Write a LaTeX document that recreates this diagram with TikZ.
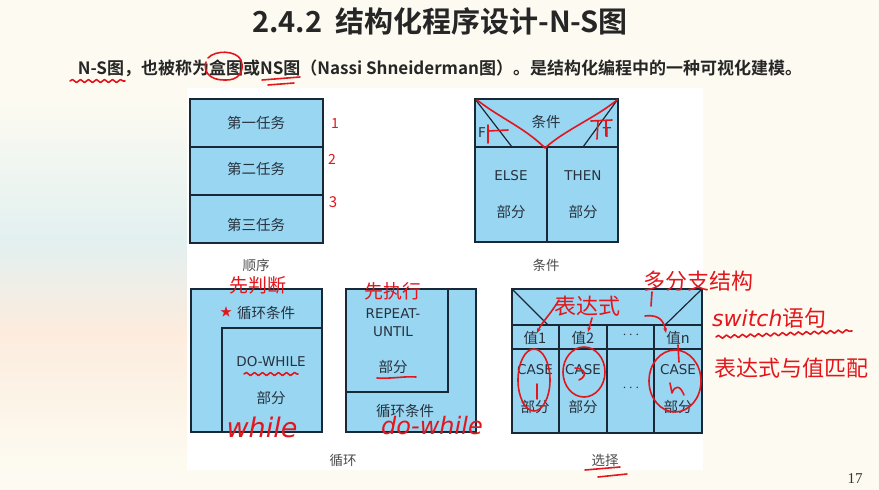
\documentclass[tikz,border=0pt]{standalone}
\usepackage{fontspec}
\setmainfont{DejaVu Sans}
\newfontfamily\cjk{Noto Sans CJK SC}[BoldFont={Noto Sans CJK SC Bold}]
\newfontfamily\numfont{Liberation Serif}
\usetikzlibrary{shapes.geometric,arrows.meta,decorations.pathmorphing}
\definecolor{nsfill}{RGB}{152,214,242}
\definecolor{nsline}{RGB}{25,40,55}
\definecolor{nstext}{RGB}{40,50,62}
\definecolor{pen}{RGB}{226,22,28}
\definecolor{slide}{RGB}{253,251,241}
\definecolor{paleblue}{RGB}{226,240,240}
\definecolor{palepeach}{RGB}{252,236,222}
\tikzset{
  nsbox/.style={draw=nsline, line width=1.8pt, fill=nsfill},
  nsdiv/.style={draw=nsline, line width=1.2pt},
  zh/.style={font=\cjk\fontsize{14.5}{16}\selectfont, text=nstext, inner sep=0pt},
  lat/.style={font=\fontsize{13.5}{16}\selectfont, text=nstext, inner sep=0pt},
  capt/.style={font=\cjk\fontsize{13.5}{15}\selectfont, text=black!70, inner sep=0pt},
  ink/.style={draw=pen, line width=1.6pt, line cap=round, line join=round},
  inkzh/.style={font=\cjk\fontsize{#1}{#1}\selectfont, text=pen, inner sep=0pt},
  inklat/.style={font=\itshape\fontsize{#1}{#1}\selectfont, text=pen, inner sep=0pt},
  wavy/.style={ink, decorate, decoration={snake, amplitude=1.5pt, segment length=8pt}}
}
\begin{document}
\begin{tikzpicture}[x=1pt,y=-1pt]
\useasboundingbox (0,0) rectangle (879,490);
% slide background
\fill[slide] (0,0) rectangle (879,490);
\shade[top color=slide, bottom color=paleblue] (0,100) rectangle (187,240);
\shade[top color=paleblue, bottom color=palepeach] (0,240) rectangle (187,330);
\shade[top color=palepeach, bottom color=slide] (0,330) rectangle (187,470);
\fill[white] (187,88) rectangle (703,470);

% title and subtitle
\node[font=\cjk\bfseries\fontsize{29}{32}\selectfont, text=black!85] (title) at (440,21) {2.4.2\ \ 结构化程序设计-N-S图};
\node[font=\cjk\bfseries\fontsize{17}{20}\selectfont, text=black!85] (sub) at (440,68) {N-S图，也被称为盒图或NS图（Nassi Shneiderman图）。是结构化编程中的一种可视化建模。};

% ---------- sequence ----------
\draw[nsbox] (190,99) rectangle (323,243);
\draw[nsdiv] (190,147) -- (323,147);
\draw[nsdiv] (190,195) -- (323,195);
\node[zh] (s1) at (256,123) {第一任务};
\node[zh] (s2) at (256,169) {第二任务};
\node[zh] (s3) at (256,225) {第三任务};
\node[capt] (cs) at (256,265) {顺序};

% ---------- condition ----------
\draw[nsbox] (475,99) rectangle (618,242);
\draw[nsdiv] (475,147) -- (618,147);
\draw[nsdiv] (547,147) -- (547,242);
\draw[nsdiv] (475,99) -- (512,147);
\draw[nsdiv] (618,99) -- (583,147);
\node[zh] (cc) at (546,122) {条件};
\node[lat] (cf) at (482,133) {F};
\node[lat] (ct) at (607,133) {T};
\node[lat] (ce) at (511,176) {ELSE};
\node[zh] (cep) at (511,212) {部分};
\node[lat] (cth) at (583,176) {THEN};
\node[zh] (ctp) at (583,212) {部分};
\node[capt] (ccap) at (546,265) {条件};

% ---------- while loop ----------
\draw[nsbox] (191,289) rectangle (322,432);
\draw[nsdiv] (222,432) -- (222,328) -- (322,328);
\node[zh] (w1) at (266,313) {循环条件};
\node[lat] (w2) at (271,362) {DO-WHILE};
\node[zh] (w3) at (271,398) {部分};

% ---------- repeat loop ----------
\draw[nsbox] (346,289) rectangle (476,432);
\draw[nsdiv] (346,392) -- (448,392) -- (448,289);
\node[lat] (r1) at (393,314) {REPEAT-};
\node[lat] (r2) at (393,332) {UNTIL};
\node[zh] (r3) at (393,367) {部分};
\node[zh] (r4) at (405,411) {循环条件};
\node[capt] (lcap) at (343,460) {循环};

% ---------- case ----------
\draw[nsbox] (512,289) rectangle (702,433);
\draw[nsdiv] (512,325) -- (702,325);
\draw[nsdiv] (512,349) -- (702,349);
\draw[nsdiv] (559,325) -- (559,433);
\draw[nsdiv] (607,325) -- (607,433);
\draw[nsdiv] (654,325) -- (654,433);
\draw[nsdiv] (512,289) -- (548,325);
\draw[nsdiv] (702,289) -- (665,325);
\node[zh] (v1) at (535,338) {值1};
\node[zh] (v2) at (583,338) {值2};
\node[lat] (v3) at (631,335) {$\cdots$};
\node[zh] (v4) at (678,338) {值n};
\node[lat] (k1) at (535,370) {CASE};
\node[zh] (k1p) at (535,407) {部分};
\node[lat] (k2) at (583,370) {CASE};
\node[zh] (k2p) at (583,407) {部分};
\node[lat] (k3) at (631,388) {$\cdots$};
\node[lat] (k4) at (678,370) {CASE};
\node[zh] (k4p) at (678,407) {部分};
\node[capt] (scap) at (605,460) {选择};

% page number
\node[font=\numfont\fontsize{15}{18}\selectfont, text=black!80] (pg) at (855,479) {17};

% ================= red ink annotations =================
% subtitle marks
\draw[wavy] (70,81) -- (125,81);
\draw[ink] (208,58) .. controls (215,50) and (236,50) .. (241,60) .. controls (245,72) and (238,81) .. (224,80) .. controls (210,80) and (203,72) .. (206,62);
\draw[ink] (262,80) -- (300,77);
\draw[ink] (268,85) -- (294,83);
% sequence numbers
\node[inkzh=14] (n1) at (335,124) {1};
\node[inkzh=14] (n2) at (332,159) {2};
\node[inkzh=15] (n3) at (333,202) {3};
% condition V and F / T
\draw[ink] (477,100) .. controls (500,118) and (525,128) .. (545,148) .. controls (565,130) and (595,118) .. (617,100);
\draw[ink] (488,125) -- (488,143);
\draw[ink] (488,131) -- (508,130);
\draw[ink] (591,121) -- (612,120);
\draw[ink] (598,121) -- (597,139);
\draw[ink] (606,121) -- (606,136);
% loops
\node[inkzh=19] (a1) at (258,285) {先判断};
\node[inkzh=12] (a2) at (226,312) {★};
\draw[wavy] (244,374) -- (298,374);
\node[inklat=27] (a3) at (262,427) {while};
\node[inkzh=19] (a4) at (393,291) {先执行};
\draw[ink] (377,378) .. controls (390,379) and (405,376) .. (416,377);
\node[inklat=24] (a5) at (432,426) {do-while};
% case marks
\node[inkzh=22] (a6) at (587,306) {表达式};
\draw[ink,-{Stealth[length=5pt]}] (559,300) .. controls (550,315) and (542,322) .. (537,333);
\draw[ink,-{Stealth[length=5pt]}] (592,318) -- (588,332);
\node[inkzh=22] (a7) at (698,281) {多分支结构};
\draw[ink] (652,292) -- (651,306);
\draw[ink,-{Stealth[length=5pt]}] (645,316) .. controls (660,314) and (664,322) .. (666,333);
\draw[ink] (678,345) -- (679,362);
\node[inklat=22,anchor=west] (a8) at (712,318) {switch\cjk\upshape 语句};
\draw[wavy] (716,337) -- (852,331);
\node[inkzh=22,anchor=west] (a9) at (714,368) {表达式与值匹配};
\draw[ink] (534,380) ellipse [x radius=16, y radius=31];
\draw[ink] (537,384) -- (537,399);
\draw[ink] (584,372) ellipse [x radius=21, y radius=25];
\draw[ink] (575,368) .. controls (585,368) and (588,376) .. (579,380);
\draw[ink] (675,381) ellipse [x radius=26, y radius=31];
\draw[ink] (670,383) -- (672,393) .. controls (675,385) and (680,385) .. (684,395);
% selection underline
\draw[ink] (585,470) -- (620,467);
\draw[ink] (598,477) -- (627,474);
\end{tikzpicture}
\end{document}
